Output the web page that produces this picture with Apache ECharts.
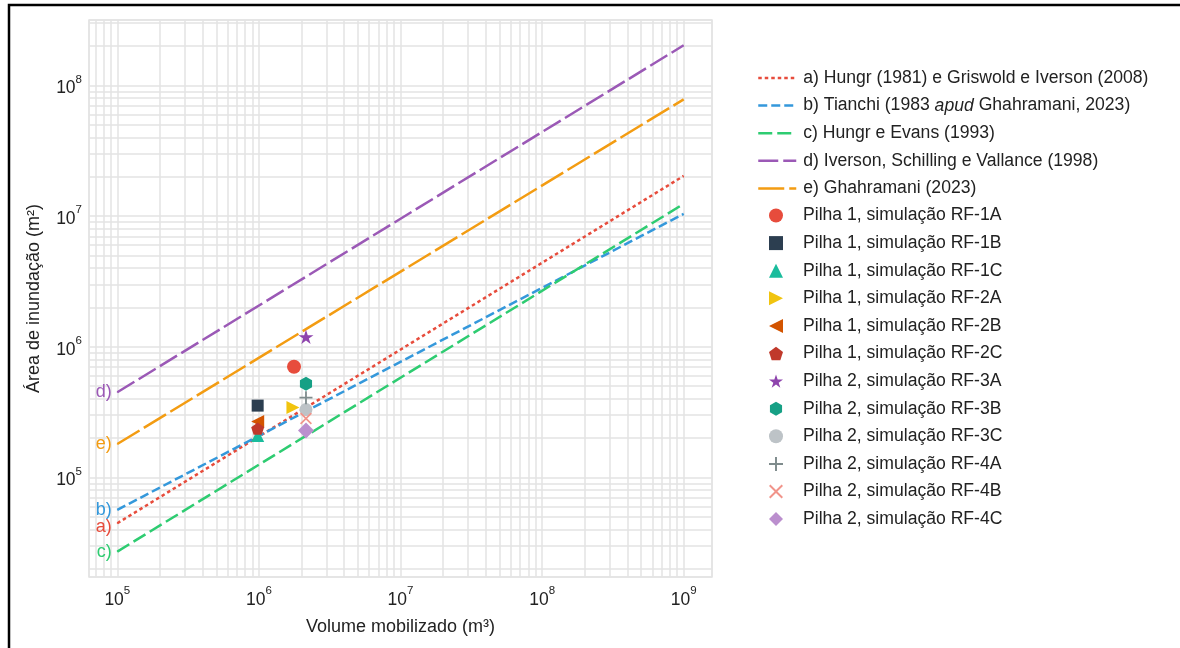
<!DOCTYPE html>
<html><head><meta charset="utf-8">
<script src="https://cdn.jsdelivr.net/npm/echarts@6/dist/echarts.min.js"></script>
<style>html,body{margin:0;padding:0;background:#fff}#c{width:1180px;height:648px}</style>
</head><body><div id="c"></div><script>
// ---------- data ----------
const lineNames = [
  'a) Hungr (1981) e Griswold e Iverson (2008)',
  'b) Tianchi (1983 apud Ghahramani, 2023)',
  'c) Hungr e Evans (1993)',
  'd) Iverson, Schilling e Vallance (1998)',
  'e) Ghahramani (2023)'
];
const lineTags = ['a)', 'b)', 'c)', 'd)', 'e)'];
const lineVolume = [1e5, 1e9];
const lineA = [4.45e4, 2.03e7];
const lineB = [5.64e4, 1.04e7];
const lineC = [2.7e4, 1.24e7];
const lineD = [4.48e5, 2.03e8];
const lineE = [1.8e5, 7.83e7];

const pointNames = [
  'Pilha 1, simulação RF-1A', 'Pilha 1, simulação RF-1B', 'Pilha 1, simulação RF-1C',
  'Pilha 1, simulação RF-2A', 'Pilha 1, simulação RF-2B', 'Pilha 1, simulação RF-2C',
  'Pilha 2, simulação RF-3A', 'Pilha 2, simulação RF-3B', 'Pilha 2, simulação RF-3C',
  'Pilha 2, simulação RF-4A', 'Pilha 2, simulação RF-4B', 'Pilha 2, simulação RF-4C'
];
const pointVolume = [1.77e6, 9.8e5, 9.8e5, 1.74e6, 9.8e5, 9.8e5, 2.15e6, 2.15e6, 2.15e6, 2.15e6, 2.15e6, 2.15e6];
const pointArea   = [7.03e5, 3.54e5, 2.09e5, 3.42e5, 2.67e5, 2.36e5, 1.19e6, 5.21e5, 3.30e5, 4.07e5, 2.82e5, 2.28e5];

// ---------- styles ----------
const FONT = 'Liberation Sans, Arial, sans-serif';
const TXT = '#222';
const GRIDC = '#e3e3e3';
const lineColors = ['#e74c3c', '#3498db', '#2ecc71', '#9b59b6', '#f39c12'];
const lineDash = [[3.5, 3], [9, 4], [14, 5], [20, 5], [26, 5]];
const lineTagOffset = [[0, 4], [0, 0], [0, 0], [0, 0], [0, 0]];
const ptColors = ['#e74c3c', '#2c3e50', '#1abc9c', '#f1c40f', '#d35400', '#c0392b',
                  '#8e44ad', '#16a085', '#bdc3c7', '#7f8c8d', '#f1948a', '#bb8fce'];
const PLUS = 'path://M-0.14,-1 L0.14,-1 L0.14,-0.14 L1,-0.14 L1,0.14 L0.14,0.14 L0.14,1 L-0.14,1 L-0.14,0.14 L-1,0.14 L-1,-0.14 L-0.14,-0.14 Z';
const CROSS = 'path://M-1,-0.8 L-0.8,-1 L0,-0.2 L0.8,-1 L1,-0.8 L0.2,0 L1,0.8 L0.8,1 L0,0.2 L-0.8,1 L-1,0.8 L-0.2,0 Z';
const ptSymbols = [
  'circle', 'rect', 'triangle',
  'path://M0,0 L1,0.5 L0,1 Z',
  'path://M1,0 L0,0.5 L1,1 Z',
  'path://M0,-1 L0.951,-0.309 L0.588,0.809 L-0.588,0.809 L-0.951,-0.309 Z',
  'path://M0,-1 L0.2245,-0.309 L0.951,-0.309 L0.3633,0.118 L0.588,0.809 L0,0.382 L-0.588,0.809 L-0.3633,0.118 L-0.951,-0.309 L-0.2245,-0.309 Z',
  'path://M0,-1 L0.866,-0.5 L0.866,0.5 L0,1 L-0.866,0.5 L-0.866,-0.5 Z',
  'circle', PLUS, CROSS, 'diamond'
];
const ptSize = [14, 12, 13, 13, 13, 13, 15, 14, 13, 13, 12, 16];

const xMin = Math.pow(10, 4.8), xMax = Math.pow(10, 9.2);
const yMin = Math.pow(10, 4.237), yMax = Math.pow(10, 8.501);

function minorValues(lo, hi) {
  const out = [];
  for (let e = 3; e <= 9; e++) for (let m = 2; m <= 9; m++) {
    const v = m * Math.pow(10, e);
    if (v > lo && v < hi) out.push(v);
  }
  return out;
}

function powLabel(v) {
  const e = Math.log10(v);
  const r = Math.round(e);
  if (Math.abs(e - r) > 1e-6) return '';
  return '{b|10}{s|' + r + '}';
}
const powRich = {
  b: { fontSize: 17.5, color: TXT, fontFamily: FONT, padding: [6, 0, 0, 0], verticalAlign: 'middle' },
  s: { fontSize: 11.5, color: TXT, fontFamily: FONT, verticalAlign: 'top' }
};

const lineData = [lineA, lineB, lineC, lineD, lineE];
const series = [];

// minor grid lines (axis decoration)
series.push({
  name: '__grid', type: 'line', data: [], silent: true,
  markLine: {
    z: 1, silent: true, animation: false, symbol: ['none', 'none'],
    label: { show: false },
    lineStyle: { color: GRIDC, width: 1.5, type: 'solid' },
    data: minorValues(xMin, xMax).map(v => ({ xAxis: v }))
      .concat(minorValues(yMin, yMax).map(v => ({ yAxis: v })))
  }
});

lineNames.forEach((n, i) => {
  series.push({
    name: n, type: 'line', symbol: 'none', z: 3,
    lineStyle: { color: lineColors[i], width: 2.5, type: lineDash[i] },
    itemStyle: { color: lineColors[i] },
    data: lineVolume.map((x, j) => [x, lineData[i][j]]),
    markPoint: {
      silent: true, animation: false, symbol: 'circle', symbolSize: 1,
      itemStyle: { color: lineColors[i] },
      label: { show: true, position: 'left', distance: 5, formatter: lineTags[i],
               color: lineColors[i], fontSize: 18, fontFamily: FONT, offset: lineTagOffset[i] },
      data: [{ coord: [lineVolume[0], lineData[i][0]] }]
    }
  });
});

pointNames.forEach((n, i) => {
  series.push({
    name: n, type: 'scatter', z: 4,
    symbol: ptSymbols[i], symbolSize: ptSize[i], symbolKeepAspect: true,
    itemStyle: { color: ptColors[i], opacity: 1 },
    data: [[pointVolume[i], pointArea[i]]]
  });
});

const legendText = { fontSize: 17.6, color: TXT, fontFamily: FONT };
const chart = echarts.init(document.getElementById('c'), null, { renderer: 'canvas' });
chart.setOption({
  animation: false,
  backgroundColor: '#fff',
  textStyle: { fontFamily: FONT },
  graphic: [{
    type: 'rect', silent: true, z: 100,
    shape: { x: 9, y: 5, width: 1400, height: 900 },
    style: { fill: 'none', stroke: '#000', lineWidth: 2.5 }
  }],
  grid: { left: 89, top: 20, right: 468, bottom: 71, show: true, borderColor: GRIDC, borderWidth: 1.5, backgroundColor: 'transparent' },
  xAxis: {
    type: 'log', min: xMin, max: xMax,
    name: 'Volume mobilizado (m³)', nameLocation: 'middle', nameGap: 41,
    nameTextStyle: { fontSize: 18, color: TXT, fontFamily: FONT },
    axisLine: { show: false }, axisTick: { show: false },
    axisLabel: { formatter: powLabel, rich: powRich, margin: 8, showMinLabel: true, showMaxLabel: true },
    splitLine: { show: true, lineStyle: { color: GRIDC, width: 1.5 } }
  },
  yAxis: {
    type: 'log', min: yMin, max: yMax,
    name: 'Área de inundação (m²)', nameLocation: 'middle', nameGap: 46, nameRotate: 90,
    nameTextStyle: { fontSize: 18, color: TXT, fontFamily: FONT },
    axisLine: { show: false }, axisTick: { show: false },
    axisLabel: { formatter: powLabel, rich: powRich, margin: 7 },
    splitLine: { show: true, lineStyle: { color: GRIDC, width: 1.5 } }
  },
  legend: [{
    orient: 'vertical', left: 752, top: 64, itemWidth: 38, itemHeight: 14, itemGap: 9.6,
    selectedMode: false,
    data: lineNames,
    formatter: n => n.replace('apud', '{i|apud}'),
    textStyle: Object.assign({ padding: [0, 0, 0, 2],
      rich: { i: Object.assign({ fontStyle: 'italic' }, legendText) } }, legendText),
    itemStyle: { opacity: 0, color: 'rgba(0,0,0,0)', borderWidth: 0 },
    lineStyle: { width: 2.5, opacity: 1 }
  }, {
    orient: 'vertical', left: 764, top: 64 + 5 * 27.5, itemWidth: 14, itemHeight: 14, itemGap: 9.6,
    selectedMode: false,
    data: pointNames,
    textStyle: Object.assign({ padding: [0, 0, 0, 15] }, legendText)
  }],
  series: series
});
</script></body></html>
